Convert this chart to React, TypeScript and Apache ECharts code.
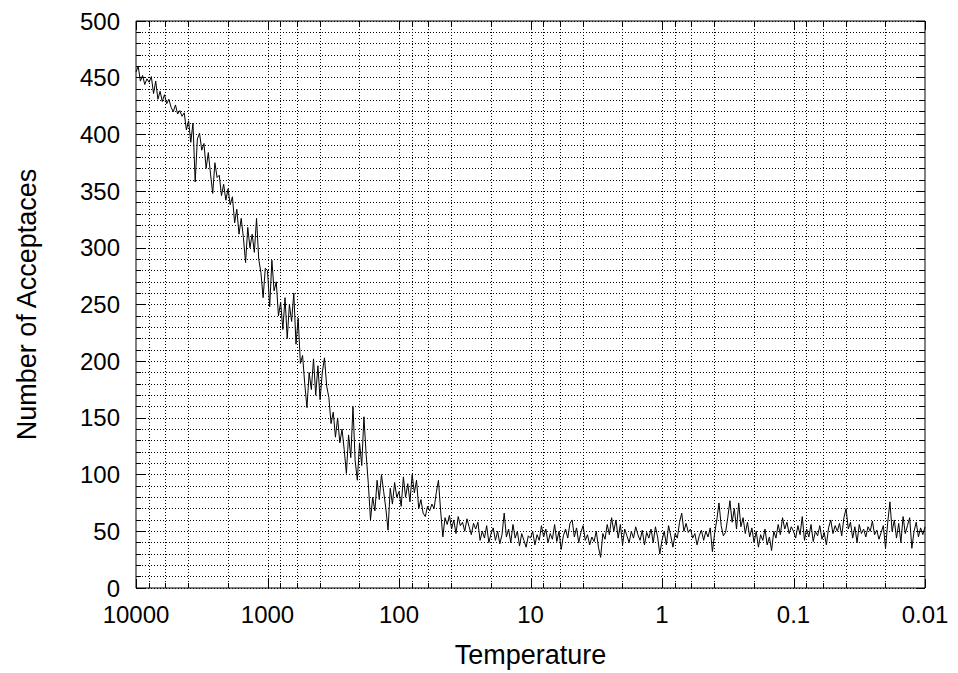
import React, { useEffect, useRef } from "react";
import * as echarts from "echarts";

// Decade start temperatures (x axis runs from 10000 down to 0.01, log scale)
const decadeStarts = [10000, 1000, 100, 10, 1, 0.1];
const finalTemperature = 0.01;

// Number of acceptances per temperature step, one array per decade
const acceptD1 = [455, 460, 447, 452, 444, 449, 446, 451, 436, 447, 431, 438, 429, 435, 427, 431, 424, 420, 426, 418, 421, 416, 419, 404, 412, 393, 410, 358, 396, 401, 386, 392, 370, 384, 365, 348, 375, 362, 364, 346, 356, 342, 352, 338, 345, 322, 334, 312, 326, 309, 287, 318, 300, 312, 296, 326, 290, 278, 256, 282];
const acceptD2 = [280, 248, 289, 262, 270, 240, 252, 228, 256, 220, 250, 235, 260, 215, 238, 198, 205, 180, 159, 190, 175, 202, 170, 196, 166, 190, 203, 178, 168, 145, 155, 133, 150, 128, 140, 122, 101, 135, 115, 160, 112, 95, 128, 108, 151, 118, 92, 60, 80, 68, 95, 78, 100, 85, 70, 51, 88, 74, 93, 80];
const acceptD3 = [85, 72, 98, 80, 92, 76, 100, 84, 95, 70, 78, 66, 63, 72, 68, 74, 70, 84, 95, 68, 45, 62, 56, 64, 52, 60, 48, 63, 55, 58, 50, 61, 54, 47, 57, 52, 58, 42, 50, 44, 55, 40, 48, 53, 42, 50, 39, 47, 66, 45, 52, 40, 56, 44, 50, 37, 48, 42, 36, 46];
const acceptD4 = [44, 50, 38, 47, 42, 55, 45, 52, 40, 48, 43, 56, 41, 50, 34, 46, 52, 44, 57, 60, 45, 53, 40, 49, 55, 42, 47, 38, 45, 41, 50, 36, 27, 48, 43, 56, 47, 62, 50, 60, 44, 56, 38, 52, 46, 40, 50, 44, 54, 47, 42, 51, 38, 49, 44, 52, 40, 54, 45, 30];
const acceptD5 = [42, 50, 38, 55, 46, 36, 48, 44, 58, 66, 50, 57, 49, 52, 44, 48, 38, 46, 51, 42, 50, 45, 53, 32, 48, 60, 75, 55, 46, 49, 62, 77, 58, 70, 52, 75, 54, 62, 48, 58, 45, 53, 40, 50, 36, 47, 42, 52, 38, 45, 33, 50, 44, 56, 47, 62, 52, 58, 48, 54];
const acceptD6 = [50, 44, 55, 47, 63, 42, 52, 45, 56, 41, 50, 46, 55, 43, 49, 38, 53, 60, 48, 55, 50, 57, 46, 62, 70, 52, 58, 44, 54, 40, 56, 48, 52, 45, 54, 50, 59, 47, 51, 43, 49, 55, 35, 58, 76, 50, 60, 44, 57, 40, 63, 48, 55, 62, 35, 50, 58, 45, 53, 47];
const acceptFinal = 54;
const acceptDecades = [acceptD1, acceptD2, acceptD3, acceptD4, acceptD5, acceptD6];

// Axis tick / grid values
const xMajorTicks = [10000, 1000, 100, 10, 1, 0.1, 0.01];
const xMinorMultipliers = [8, 6, 4, 2];
const yMin = 0;
const yMax = 500;
const yInterval = 50;

const FONT = "'Liberation Sans', Arial, Helvetica, sans-serif";

export default function App() {
  const ref = useRef<HTMLDivElement>(null);

  useEffect(() => {
    if (!ref.current) return;
    const chart = echarts.init(ref.current, undefined, { renderer: "svg" });

    const lineData: [number, number][] = [];
    acceptDecades.forEach((arr, d) => {
      const n = arr.length;
      arr.forEach((v, j) => {
        lineData.push([decadeStarts[d] * Math.pow(10, -j / n), v]);
      });
    });
    lineData.push([finalTemperature, acceptFinal]);

    // grid/tick values: [value, isMajor]
    const xTickData: [number, number][] = [];
    xMajorTicks.forEach((m, i) => {
      xTickData.push([m, 1]);
      if (i < xMajorTicks.length - 1) {
        xMinorMultipliers.forEach((k) => xTickData.push([(m / 10) * k, 0]));
      }
    });

    const dotted = { color: "#000", width: 1, type: [1, 2] as number[] };

    const yAxisCommon = {
      type: "value" as const,
      min: yMin,
      max: yMax,
      interval: yInterval,
      axisLine: { show: false },
      axisTick: { show: true, inside: true, length: 9, lineStyle: { color: "#000", width: 1 } },
      minorTick: { show: true, splitNumber: 5, length: 5, lineStyle: { color: "#000", width: 1 } },
    };

    chart.setOption({
      animation: false,
      backgroundColor: "#fff",
      grid: {
        left: 136,
        right: 33,
        top: 21,
        bottom: 85,
        show: true,
        borderColor: "#000",
        borderWidth: 1,
        backgroundColor: "transparent",
      },
      xAxis: {
        type: "log",
        logBase: 10,
        min: 0.01,
        max: 10000,
        interval: 1,
        splitNumber: 6,
        inverse: true,
        axisLine: { show: false },
        axisTick: { show: false },
        splitLine: { show: false },
        axisLabel: {
          color: "#000",
          fontSize: 24,
          fontFamily: FONT,
          margin: 14,
          formatter: (v: number) => {
            const e = Math.round(Math.log10(v));
            return e >= 0 ? String(Math.pow(10, e)) : Math.pow(10, e).toFixed(-e);
          },
        },
        name: "Temperature",
        nameLocation: "middle",
        nameGap: 53,
        nameTextStyle: { color: "#000", fontSize: 27, fontFamily: FONT },
      },
      yAxis: [
        {
          ...yAxisCommon,
          position: "left",
          splitLine: { show: true, lineStyle: dotted },
          minorSplitLine: { show: true, lineStyle: dotted },
          axisLabel: { color: "#000", fontSize: 24, fontFamily: FONT, margin: 16 },
          name: "Number of Acceptaces",
          nameLocation: "middle",
          nameGap: 96,
          nameTextStyle: { color: "#000", fontSize: 27, fontFamily: FONT },
        },
        {
          ...yAxisCommon,
          position: "right",
          splitLine: { show: false },
          minorSplitLine: { show: false },
          axisLabel: { show: false },
        },
      ],
      series: [
        {
          type: "custom",
          silent: true,
          clip: false,
          z: 1,
          data: xTickData,
          encode: { x: 0, y: 1 },
          renderItem: (params: any, api: any) => {
            const v = api.value(0);
            const major = api.value(1) === 1;
            const b = api.coord([v, yMin]);
            const t = api.coord([v, yMax]);
            const len = major ? 9 : 5;
            const x = Math.round(b[0]) + 0.5;
            const children: any[] = [];
            const isEdge = v >= 10000 * 0.999 || v <= 0.01 * 1.001;
            if (!isEdge) {
              children.push({
                type: "line",
                shape: { x1: x, y1: b[1], x2: x, y2: t[1] },
                style: { stroke: "#000", lineWidth: 1, lineDash: [1, 2] },
              });
            }
            children.push({
              type: "line",
              shape: { x1: x, y1: b[1], x2: x, y2: b[1] - len },
              style: { stroke: "#000", lineWidth: 1 },
            });
            children.push({
              type: "line",
              shape: { x1: x, y1: t[1], x2: x, y2: t[1] + len },
              style: { stroke: "#000", lineWidth: 1 },
            });
            return { type: "group", children };
          },
        },
        {
          type: "line",
          data: lineData,
          showSymbol: false,
          symbol: "none",
          z: 3,
          lineStyle: { color: "#000", width: 1 },
        },
      ],
    });

    return () => chart.dispose();
  }, []);

  return (
    <div
      ref={ref}
      style={{ position: "fixed", left: 0, top: 0, width: 958, height: 673, background: "#fff" }}
    />
  );
}
